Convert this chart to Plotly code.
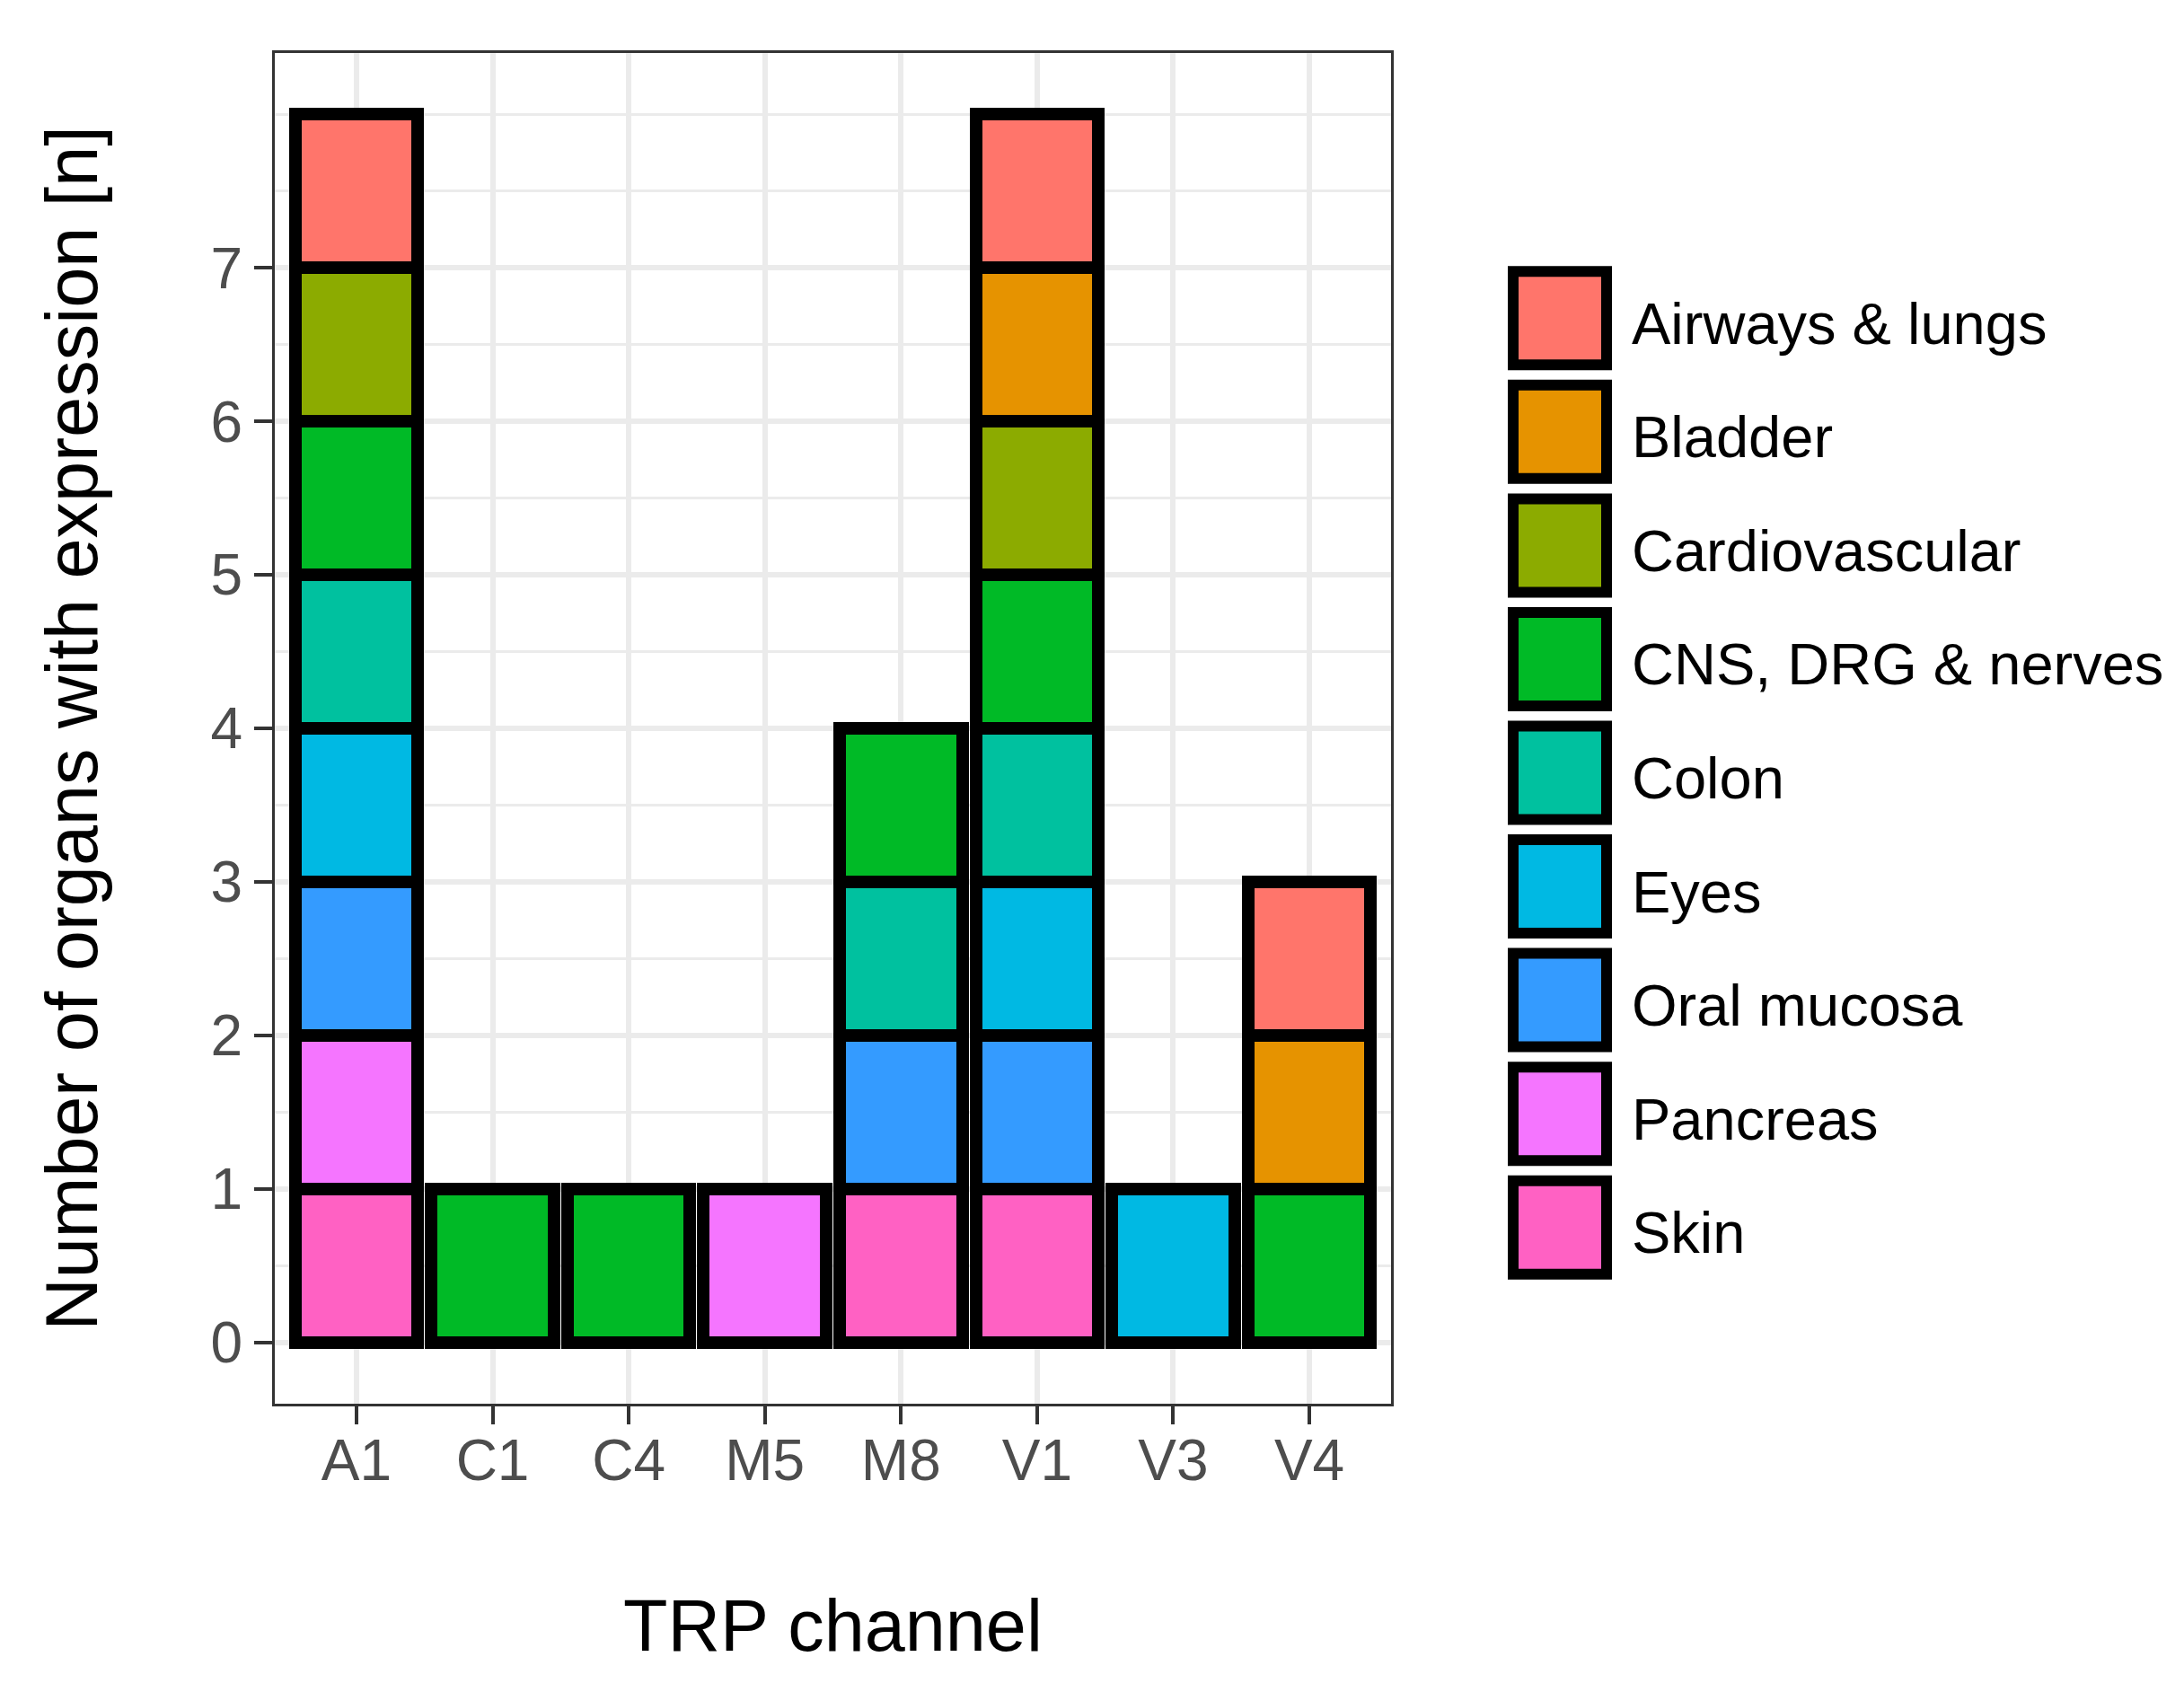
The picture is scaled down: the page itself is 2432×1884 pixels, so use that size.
import plotly.graph_objects as go

# data
channels = ["A1", "C1", "C4", "M5", "M8", "V1", "V3", "V4"]
organs = ["Airways & lungs", "Bladder", "Cardiovascular", "CNS, DRG & nerves",
          "Colon", "Eyes", "Oral mucosa", "Pancreas", "Skin"]
organ_colors = ["#FF756B", "#E69300", "#8CAB00", "#00BA26", "#00C19F",
                "#00B9E3", "#349BFF", "#F575FF", "#FF61C3"]

# 1 = channel expressed in that organ (same order as channels)
airways = [1, 0, 0, 0, 0, 1, 0, 1]
bladder = [0, 0, 0, 0, 0, 1, 0, 1]
cardiovascular = [1, 0, 0, 0, 0, 1, 0, 0]
cns = [1, 1, 1, 0, 1, 1, 0, 1]
colon = [1, 0, 0, 0, 1, 1, 0, 0]
eyes = [1, 0, 0, 0, 0, 1, 1, 0]
oral_mucosa = [1, 0, 0, 0, 1, 1, 0, 0]
pancreas = [1, 0, 0, 1, 0, 0, 0, 0]
skin = [1, 0, 0, 0, 1, 1, 0, 0]

y_breaks = [0, 1, 2, 3, 4, 5, 6, 7]

counts = [airways, bladder, cardiovascular, cns, colon, eyes,
          oral_mucosa, pancreas, skin]

# page body has an 8px margin, so the figure is a bit smaller than the window
PAD = 8
W, H = 2432 - 2 * PAD, 1884 - 2 * PAD
FONT = "Liberation Sans, Arial, sans-serif"


def px_x(p):
    return (p - PAD) / W


def px_y(p):
    return 1 - (p - PAD) / H


fig = go.Figure()

# ggplot stacks the first level on top, so add traces from the last organ up
for organ, color, vals in reversed(list(zip(organs, organ_colors, counts))):
    fig.add_trace(go.Bar(
        x=channels,
        y=[v if v else None for v in vals],
        name=organ,
        width=0.9,
        marker=dict(color=color, line=dict(color="black", width=14)),
        showlegend=False,
        xaxis="x", yaxis="y",
    ))

# hand-made legend with big keys, on its own axes
fig.add_trace(go.Scatter(
    x=[0] * len(organs), y=organs,
    mode="markers",
    marker=dict(symbol="square", size=104, color=organ_colors,
                line=dict(color="black", width=12)),
    cliponaxis=False,
    showlegend=False, hoverinfo="skip",
    xaxis="x2", yaxis="y2",
))
legend_labels = [
    dict(x=0.113, y=organ, xref="x2", yref="y2", text=organ,
         xanchor="left", yanchor="middle", yshift=-6, showarrow=False,
         font=dict(family=FONT, size=65, color="black"))
    for organ in organs
]

minor_breaks = [b + 0.5 for b in y_breaks] + [y_breaks[-1] + 1]

fig.update_layout(
    width=W, height=H,
    margin=dict(l=0, r=0, t=0, b=0),
    barmode="stack",
    paper_bgcolor="white",
    plot_bgcolor="white",
    font=dict(family=FONT),
    annotations=legend_labels,
    xaxis=dict(
        domain=[px_x(306), px_x(1549)],
        type="category",
        categoryorder="array", categoryarray=channels,
        range=[-0.6, 7.6],
        showgrid=True, gridcolor="#EBEBEB", gridwidth=6,
        showline=True, linecolor="#333333", linewidth=3, mirror=True,
        ticks="outside", ticklen=20, tickwidth=4, tickcolor="#333333",
        ticklabelstandoff=-15,
        tickfont=dict(family=FONT, size=64, color="#4D4D4D"),
        title=dict(text="TRP channel", font=dict(family=FONT, size=81, color="black"),
                   standoff=121),
        zeroline=False,
        fixedrange=True,
    ),
    yaxis=dict(
        domain=[px_y(1563), px_y(59)],
        range=[-0.4, 8.4],
        tickmode="array", tickvals=y_breaks,
        showgrid=True, gridcolor="#EBEBEB", gridwidth=6,
        minor=dict(tickmode="array", tickvals=minor_breaks, showgrid=True,
                   gridcolor="#EBEBEB", gridwidth=3, ticks=""),
        showline=True, linecolor="#333333", linewidth=3, mirror=True,
        ticks="outside", ticklen=20, tickwidth=4, tickcolor="#333333",
        tickfont=dict(family=FONT, size=64, color="#4D4D4D"),
        title=dict(text="Number of organs with expression [n]",
                   font=dict(family=FONT, size=81, color="black"), standoff=100),
        zeroline=False,
        fixedrange=True,
    ),
    xaxis2=dict(
        domain=[px_x(1737), 1], range=[0, 1],
        visible=False, fixedrange=True,
    ),
    yaxis2=dict(
        domain=[px_y(1430), px_y(291)],
        type="category", categoryorder="array", categoryarray=organs,
        range=[len(organs) - 0.5, -0.5],
        visible=False, fixedrange=True,
    ),
)

fig.write_html("out.html")
